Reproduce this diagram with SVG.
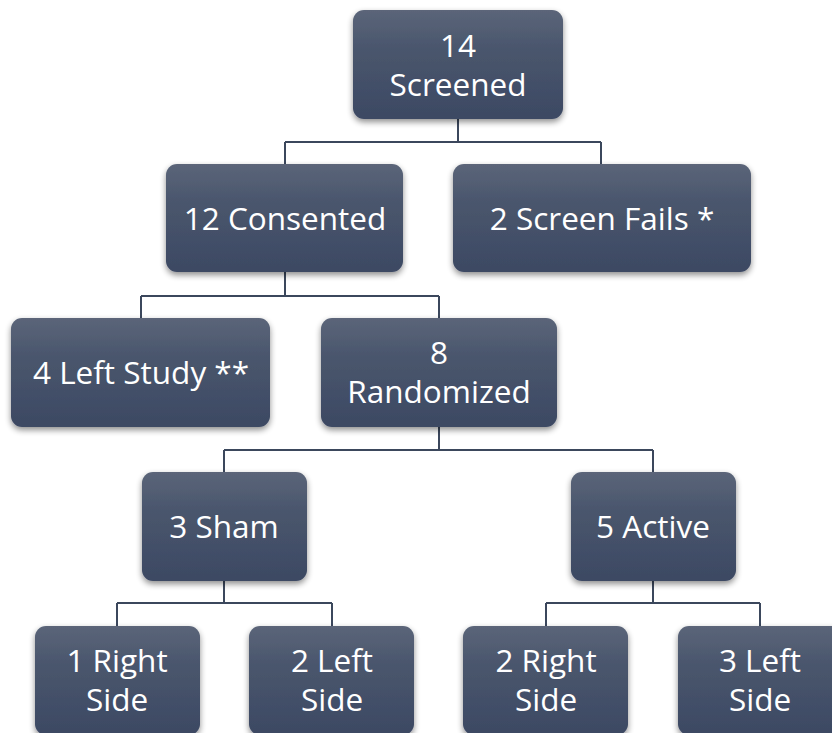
<svg xmlns="http://www.w3.org/2000/svg" width="832" height="733" viewBox="0 0 832 733">
<defs>
<linearGradient id="g" x1="0" y1="0" x2="0" y2="1">
<stop offset="0" stop-color="#5b6579"/>
<stop offset="0.35" stop-color="#4a566d"/>
<stop offset="1" stop-color="#3c4963"/>
</linearGradient>
<filter id="sh" x="-10%" y="-10%" width="120%" height="130%">
<feGaussianBlur in="SourceAlpha" stdDeviation="3"/>
<feOffset dx="0" dy="3" result="b"/>
<feComponentTransfer><feFuncA type="linear" slope="0.45"/></feComponentTransfer>
<feMerge><feMergeNode/><feMergeNode in="SourceGraphic"/></feMerge>
</filter>
</defs>
<style>
.box{fill:url(#g);filter:url(#sh)}
.t{fill:#ffffff;font-family:"Open Sans","Noto Sans",sans-serif;font-size:31.5px;text-anchor:middle}
.c{fill:none;stroke:#3b475c;stroke-width:2}
</style>
<rect width="832" height="733" fill="#ffffff"/>
<g id="connectors">
<path class="c" d="M458 119V142M285 142H601M285 142V164M601 142V164"/>
<path class="c" d="M285 272V296M141 296H439M141 296V318M439 296V318"/>
<path class="c" d="M439 427V450M224 450H653M224 450V472M653 450V472"/>
<path class="c" d="M224 581V603M117 603H332M117 603V626M332 603V626"/>
<path class="c" d="M653 581V603M546 603H760M546 603V626M760 603V626"/>
</g>
<g id="n-screened"><rect class="box" x="353" y="10" width="210" height="109" rx="11"/><text class="t" x="458" y="57">14</text><text class="t" x="458" y="96">Screened</text></g>
<g id="n-consented"><rect class="box" x="166" y="164" width="237" height="108" rx="11"/><text class="t" x="285" y="230">12 Consented</text></g>
<g id="n-fails"><rect class="box" x="453" y="164" width="298" height="108" rx="11"/><text class="t" x="602" y="230">2 Screen Fails *</text></g>
<g id="n-left"><rect class="box" x="11" y="318" width="259" height="109" rx="11"/><text class="t" x="141" y="384">4 Left Study **</text></g>
<g id="n-random"><rect class="box" x="321" y="318" width="236" height="109" rx="11"/><text class="t" x="439" y="364">8</text><text class="t" x="439" y="403">Randomized</text></g>
<g id="n-sham"><rect class="box" x="142" y="472" width="165" height="109" rx="11"/><text class="t" x="224" y="538">3 Sham</text></g>
<g id="n-active"><rect class="box" x="571" y="472" width="165" height="109" rx="11"/><text class="t" x="653" y="538">5 Active</text></g>
<g id="n-sham-right"><rect class="box" x="35" y="626" width="165" height="109" rx="11"/><text class="t" x="117" y="672">1 Right</text><text class="t" x="117" y="711">Side</text></g>
<g id="n-sham-left"><rect class="box" x="249" y="626" width="165" height="109" rx="11"/><text class="t" x="332" y="672">2 Left</text><text class="t" x="332" y="711">Side</text></g>
<g id="n-active-right"><rect class="box" x="463" y="626" width="165" height="109" rx="11"/><text class="t" x="546" y="672">2 Right</text><text class="t" x="546" y="711">Side</text></g>
<g id="n-active-left"><rect class="box" x="678" y="626" width="165" height="109" rx="11"/><text class="t" x="760" y="672">3 Left</text><text class="t" x="760" y="711">Side</text></g>
</svg>
